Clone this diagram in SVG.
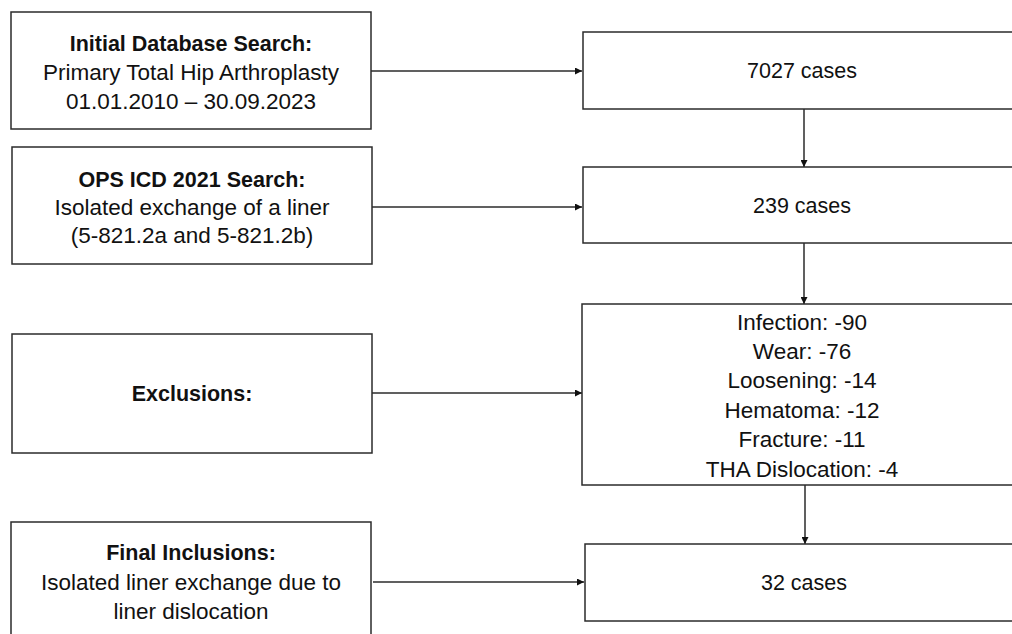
<svg xmlns="http://www.w3.org/2000/svg" width="1012" height="634" viewBox="0 0 1012 634">
<style>
.box{fill:#fff;stroke:#2b2b2b;stroke-width:1.5}
.t{font-family:"Liberation Sans",Arial,sans-serif;font-size:22.5px;fill:#111;text-anchor:middle}
.b{font-weight:bold;font-size:21.5px}
.n{font-size:21.5px}
.c{stroke:#2b2b2b;stroke-width:1.5;fill:none;marker-end:url(#ah)}
</style>
<defs>
<marker id="ah" viewBox="0 0 10 10" refX="10" refY="5" markerWidth="8" markerHeight="7" orient="auto" markerUnits="userSpaceOnUse">
<path d="M0,0 L10,5 L0,10 z" fill="#111"/>
</marker>
</defs>
<rect width="1012" height="634" fill="#fff"/>
<g id="connectors">
<line class="c" x1="371" y1="71" x2="582" y2="71"/>
<line class="c" x1="372" y1="207" x2="582" y2="207"/>
<line class="c" x1="372" y1="393" x2="582" y2="393"/>
<line class="c" x1="373" y1="582" x2="584" y2="582"/>
<line class="c" x1="804" y1="109" x2="804" y2="167"/>
<line class="c" x1="804" y1="243" x2="804" y2="304"/>
<line class="c" x1="805" y1="485" x2="805" y2="544"/>
</g>
<g id="n-initial">
<rect class="box" x="11" y="12" width="360" height="117"/>
<text class="t b" x="191" y="51">Initial Database Search:</text>
<text class="t" x="191" y="80">Primary Total Hip Arthroplasty</text>
<text class="t" x="191" y="109">01.01.2010 – 30.09.2023</text>
</g>
<g id="n-ops">
<rect class="box" x="12" y="147" width="360" height="117"/>
<text class="t b" x="192" y="187">OPS ICD 2021 Search:</text>
<text class="t" x="192" y="215">Isolated exchange of a liner</text>
<text class="t" x="192" y="243">(5-821.2a and 5-821.2b)</text>
</g>
<g id="n-excl">
<rect class="box" x="12" y="334" width="360" height="119"/>
<text class="t b" x="192" y="401">Exclusions:</text>
</g>
<g id="n-final">
<rect class="box" x="11" y="522" width="360" height="130"/>
<text class="t b" x="191" y="560">Final Inclusions:</text>
<text class="t" x="191" y="590">Isolated liner exchange due to</text>
<text class="t" x="191" y="619">liner dislocation</text>
</g>
<g id="n-7027">
<rect class="box" x="583" y="32" width="440" height="77"/>
<text class="t n" x="802" y="78">7027 cases</text>
</g>
<g id="n-239">
<rect class="box" x="583" y="167" width="440" height="76"/>
<text class="t n" x="802" y="213">239 cases</text>
</g>
<g id="n-exclusions-list">
<rect class="box" x="582" y="304" width="440" height="181"/>
<text class="t" x="802" y="330">Infection: -90</text>
<text class="t" x="802" y="359">Wear: -76</text>
<text class="t" x="802" y="388">Loosening: -14</text>
<text class="t" x="802" y="418">Hematoma: -12</text>
<text class="t" x="802" y="447">Fracture: -11</text>
<text class="t" x="802" y="477">THA Dislocation: -4</text>
</g>
<g id="n-32">
<rect class="box" x="585" y="544" width="440" height="77"/>
<text class="t n" x="804" y="590">32 cases</text>
</g>
</svg>
